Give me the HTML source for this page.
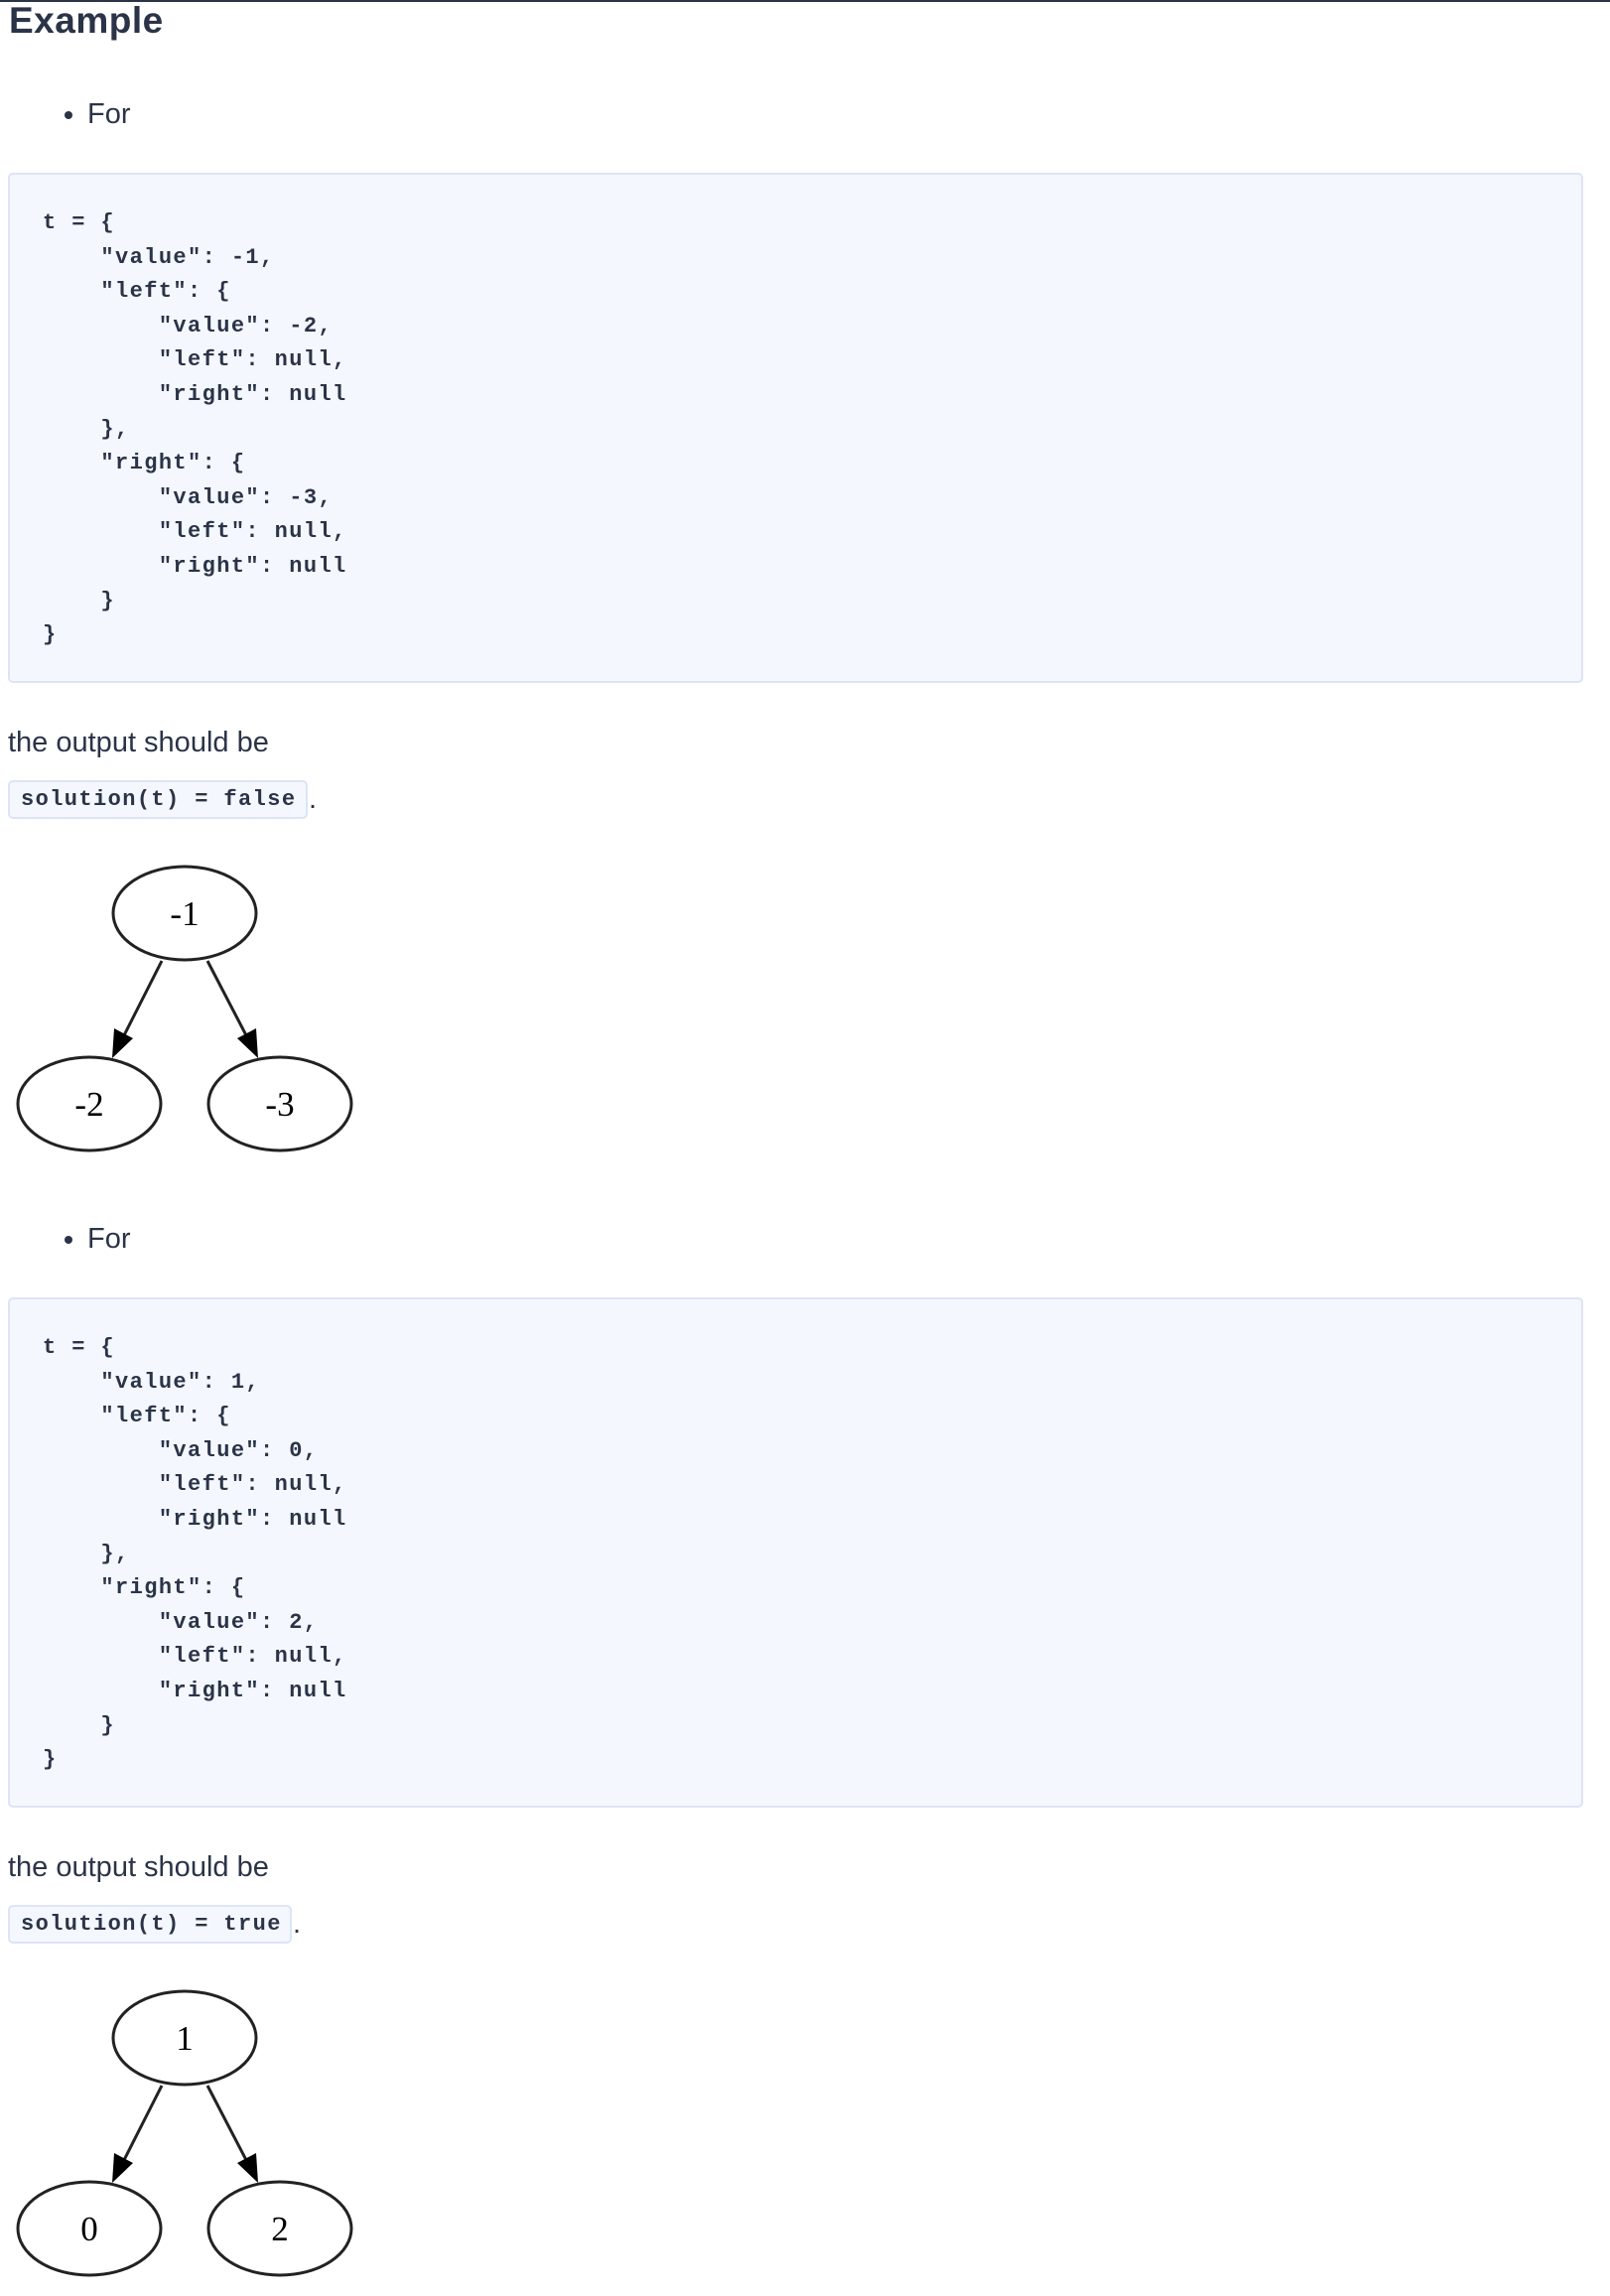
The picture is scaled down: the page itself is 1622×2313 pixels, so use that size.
<!DOCTYPE html>
<html><head><meta charset="utf-8"><style>
body{margin:0;width:1622px;height:2290px;overflow:hidden;background:#fff;position:relative;font-family:"Liberation Sans",sans-serif;color:#2b3447}
.a{position:absolute}
.topbar{left:0;top:0;width:1622px;height:2px;background:#2b3447}
h1{position:absolute;margin:0;left:9px;top:-1px;font-size:37px;font-weight:600;line-height:44px;letter-spacing:0.5px}
.t{font-size:29px;line-height:30px;white-space:nowrap}
.bul{width:8px;height:8px;border-radius:50%;background:#2b3447}
.box{left:8px;width:1587px;height:514px;background:#f4f7fe;border:2px solid #dde4f6;border-radius:5px;box-sizing:border-box}
pre{position:absolute;margin:0;left:43px;font-family:"Liberation Mono",monospace;font-weight:bold;font-size:22px;letter-spacing:1.4px;line-height:34.6px;color:#2b3447}
.ic{left:8px;height:39px;background:#f4f7fe;border:2px solid #dde4f6;border-radius:5px;box-sizing:border-box;font-family:"Liberation Mono",monospace;font-weight:bold;font-size:22px;letter-spacing:1.4px;line-height:35px;padding-left:11px;white-space:pre}
svg text{font-family:"Liberation Serif",serif;font-size:35px;fill:#000}
</style></head><body>
<div class="a topbar"></div>
<h1>Example</h1>

<div class="a bul" style="left:65px;top:112px"></div>
<div class="a t" style="left:88px;top:100px">For</div>
<div class="a box" style="top:174px"></div>
<pre style="top:208px">t = {
    "value": -1,
    "left": {
        "value": -2,
        "left": null,
        "right": null
    },
    "right": {
        "value": -3,
        "left": null,
        "right": null
    }
}</pre>
<div class="a t" style="left:8px;top:733px">the output should be</div>
<div class="a ic" style="top:786px;width:302px">solution(t) = false</div>
<div class="a t" style="left:311px;top:790px">.</div>
<svg class="a" style="left:0;top:860px" width="400" height="320">
<g fill="none" stroke="#222" stroke-width="3">
<ellipse cx="186" cy="60" rx="72" ry="47"/>
<ellipse cx="90" cy="252" rx="72" ry="47"/>
<ellipse cx="282" cy="252" rx="72" ry="47"/>
<line x1="163" y1="108" x2="125" y2="183"/>
<line x1="209" y1="108" x2="248" y2="183"/>
</g>
<path d="M113,206L115,176L134,186z" fill="#000"/>
<path d="M260,206L239,186L258,176z" fill="#000"/>
<text x="186" y="72" text-anchor="middle">-1</text>
<text x="90" y="264" text-anchor="middle">-2</text>
<text x="282" y="264" text-anchor="middle">-3</text>
</svg>

<div class="a bul" style="left:65px;top:1245px"></div>
<div class="a t" style="left:88px;top:1233px">For</div>
<div class="a box" style="top:1307px"></div>
<pre style="top:1341px">t = {
    "value": 1,
    "left": {
        "value": 0,
        "left": null,
        "right": null
    },
    "right": {
        "value": 2,
        "left": null,
        "right": null
    }
}</pre>
<div class="a t" style="left:8px;top:1866px">the output should be</div>
<div class="a ic" style="top:1919px;width:286px">solution(t) = true</div>
<div class="a t" style="left:295px;top:1923px">.</div>
<svg class="a" style="left:0;top:1993px" width="400" height="320">
<g fill="none" stroke="#222" stroke-width="3">
<ellipse cx="186" cy="60" rx="72" ry="47"/>
<ellipse cx="90" cy="252" rx="72" ry="47"/>
<ellipse cx="282" cy="252" rx="72" ry="47"/>
<line x1="163" y1="108" x2="125" y2="183"/>
<line x1="209" y1="108" x2="248" y2="183"/>
</g>
<path d="M113,206L115,176L134,186z" fill="#000"/>
<path d="M260,206L239,186L258,176z" fill="#000"/>
<text x="186" y="72" text-anchor="middle">1</text>
<text x="90" y="264" text-anchor="middle">0</text>
<text x="282" y="264" text-anchor="middle">2</text>
</svg>
</body></html>
